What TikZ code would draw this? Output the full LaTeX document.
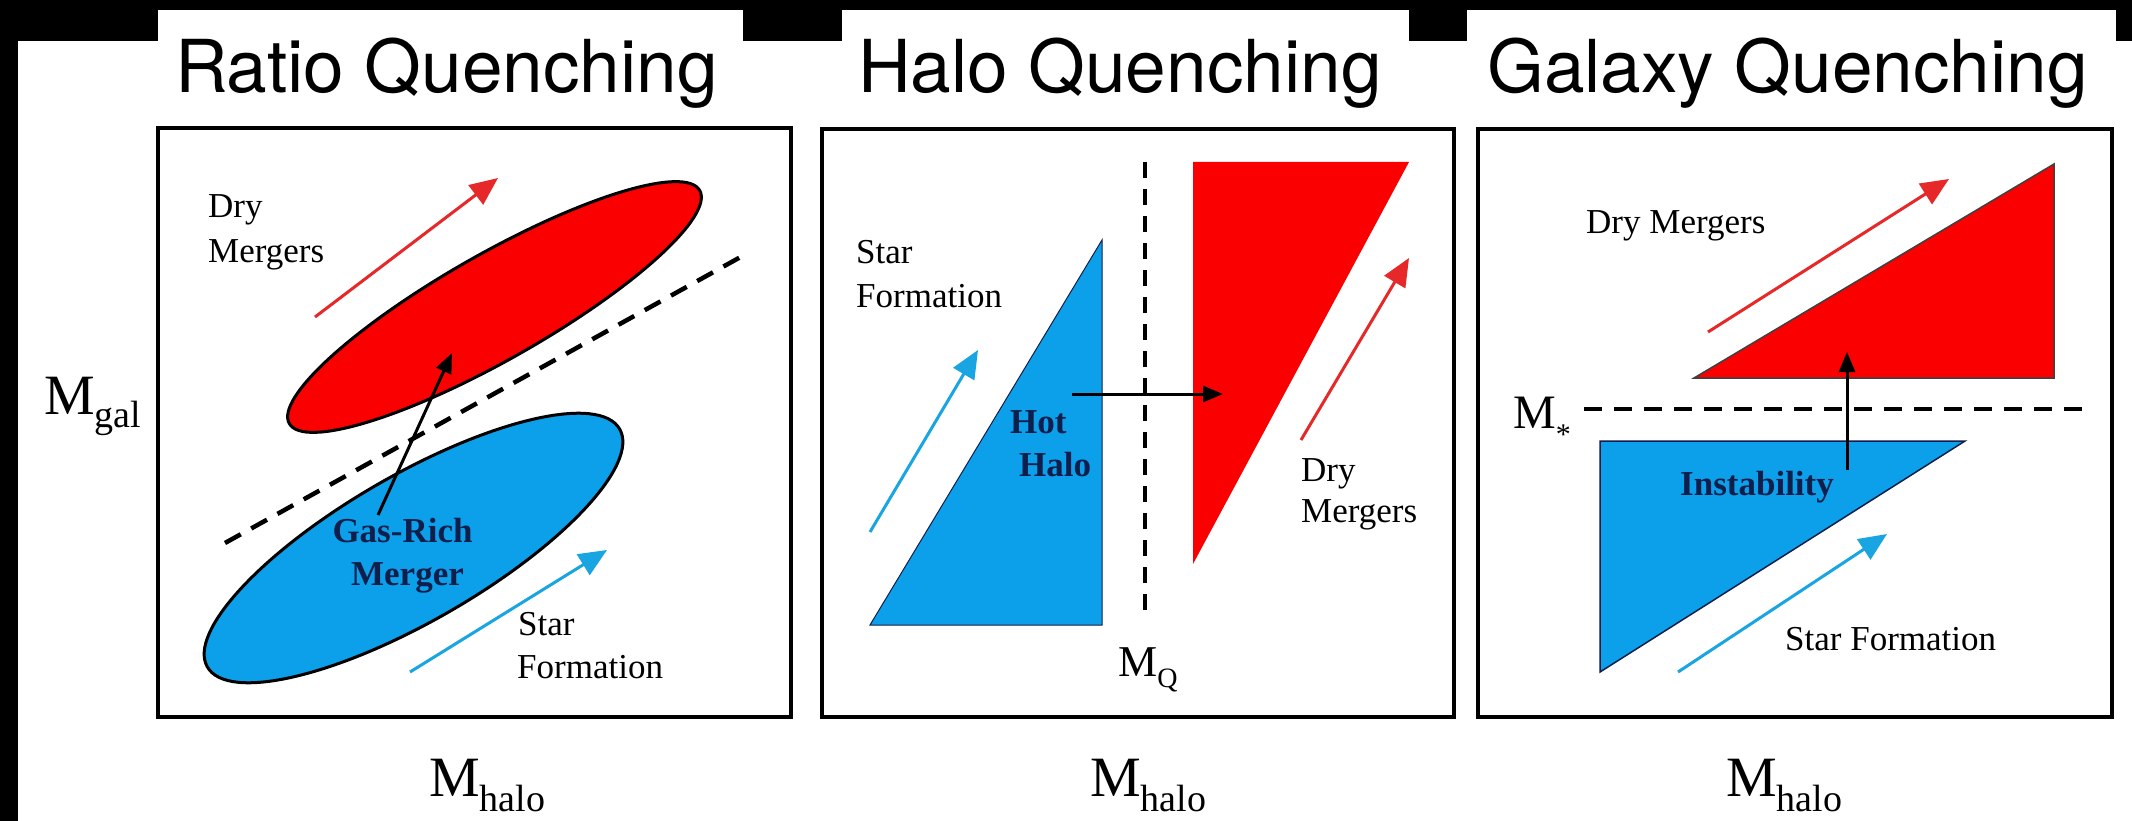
\documentclass[tikz,border=0pt]{standalone}
\usepackage{fontspec}
\setmainfont{Liberation Serif}
\newfontfamily\titlefont{TeX Gyre Heros}
\usetikzlibrary{arrows.meta,shapes.geometric}
\definecolor{fillred}{RGB}{250,0,0}
\definecolor{fillblue}{RGB}{12,160,234}
\definecolor{arrred}{RGB}{230,40,40}
\definecolor{arrblue}{RGB}{25,165,225}
\definecolor{navy}{RGB}{15,30,75}
\tikzset{
  panel/.style={draw=black, line width=4pt},
  title/.style={font=\titlefont\fontsize{73}{80}\selectfont, anchor=base west, inner sep=0pt},
  lbl/.style={font=\fontsize{35}{40}\selectfont, anchor=base west, inner sep=0pt},
  boldlbl/.style={font=\bfseries\fontsize{35}{40}\selectfont, text=navy, anchor=base west, inner sep=0pt},
  axislbl/.style={font=\fontsize{57}{60}\selectfont, anchor=base west, inner sep=0pt},
  sepline/.style={line width=4.5pt, dash pattern=on 18pt off 12pt},
  redarrow/.style={draw=arrred, line width=3pt, -{Triangle[length=28pt,width=24pt]}},
  bluearrow/.style={draw=arrblue, line width=3pt, -{Triangle[length=28pt,width=24pt]}},
  blackarrow/.style={draw=black, line width=3pt, -{Triangle[length=20pt,width=16pt]}},
  blob/.style={ellipse, draw=black, line width=3pt, inner sep=0pt},
}
\newcommand{\halosub}{\raisebox{-15pt}{\fontsize{38}{38}\selectfont halo}}
\begin{document}
\begin{tikzpicture}[x=1pt,y=-1pt]
\useasboundingbox (0,0) rectangle (2132,821);
% background
\fill[white] (0,0) rectangle (2132,821);
\fill[black] (0,0) rectangle (2132,10);
\fill[black] (0,0) rectangle (158,41);
\fill[black] (743,0) rectangle (842,41);
\fill[black] (1409,0) rectangle (1467,41);
\fill[black] (2116,0) rectangle (2132,41);
\fill[black] (0,0) rectangle (18,821);
% titles
\node[title] (t1) at (175,93) {Ratio Quenching};
\node[title] (t2) at (858,93) {Halo Quenching};
\node[title] (t3) at (1487,93) {Galaxy Quenching};
% panel frames
\draw[panel] (158,128) rectangle (791,717);
\draw[panel] (822,129) rectangle (1454,717);
\draw[panel] (1478,129) rectangle (2112,717);

% ---------- Panel 1: Ratio quenching ----------
\node[blob, fill=fillblue, minimum width=476pt, minimum height=146pt, rotate=30] (blueell) at (413.5,548) {};
\node[blob, fill=fillred, minimum width=472pt, minimum height=106pt, rotate=29.6] (redell) at (494.5,307) {};
\coordinate (d1a) at (225,543);
\coordinate (d1b) at (746,254);
\draw[sepline] (d1a) -- (d1b);
\coordinate (r1a) at (315,317);
\coordinate (r1b) at (498,178);
\draw[redarrow] (r1a) -- (r1b);
\coordinate (b1a) at (410,672);
\coordinate (b1b) at (607,550);
\draw[bluearrow] (b1a) -- (b1b);
\node[boldlbl, anchor=base] (gas) at (402.5,542) {Gas-Rich};
\node[boldlbl, anchor=base] (merger) at (407.5,585) {Merger};
\coordinate (k1a) at (378,515);
\coordinate (k1b) at (452,353);
\draw[blackarrow] (k1a) -- (k1b);
\node[lbl] (dry1) at (208,218) {Dry};
\node[lbl] (merg1) at (208,262) {Mergers};
\node[lbl] (star1) at (518,635) {Star};
\node[lbl] (form1) at (517,678) {Formation};
\node[axislbl] (mgal) at (44,414) {M\raisebox{-13pt}{\fontsize{38}{38}\selectfont gal}};
\node[axislbl] (mh1) at (429,796) {M\halosub};

% ---------- Panel 2: Halo quenching ----------
\fill[fillblue, draw=navy, line width=1pt] (870,625) -- (1102,625) -- (1102,240) -- cycle;
\fill[fillred] (1193,162) -- (1409,162) -- (1193,564) -- cycle;
\coordinate (d2a) at (1145,162);
\coordinate (d2b) at (1145,610);
\draw[sepline, dash pattern=on 16pt off 11pt] (d2a) -- (d2b);
\coordinate (k2a) at (1072,394);
\coordinate (k2b) at (1223,394);
\draw[blackarrow] (k2a) -- (k2b);
\coordinate (b2a) at (870,532);
\coordinate (b2b) at (978,350);
\draw[bluearrow] (b2a) -- (b2b);
\coordinate (r2a) at (1301,440);
\coordinate (r2b) at (1409,258);
\draw[redarrow] (r2a) -- (r2b);
\node[lbl] (star2) at (856,263) {Star};
\node[lbl] (form2) at (856,307) {Formation};
\node[boldlbl] (hot) at (1010,433) {Hot};
\node[boldlbl] (halo) at (1019,476) {Halo};
\node[lbl] (dry2) at (1301,481) {Dry};
\node[lbl] (merg2) at (1301,522) {Mergers};
\node[axislbl, font=\fontsize{44}{48}\selectfont] (mq) at (1118,676) {M\raisebox{-11pt}{\fontsize{28}{28}\selectfont Q}};
\node[axislbl] (mh2) at (1090,796) {M\halosub};

% ---------- Panel 3: Galaxy quenching ----------
\fill[fillred, draw=black!75, line width=1.5pt] (1694,378) -- (2054,378) -- (2054,164) -- cycle;
\fill[fillblue, draw=navy, line width=1.5pt] (1600,441) -- (1965,441) -- (1600,672) -- cycle;
\coordinate (d3a) at (1584,409);
\coordinate (d3b) at (2084,409);
\draw[sepline] (d3a) -- (d3b);
\coordinate (r3a) at (1708,332);
\coordinate (r3b) at (1949,179);
\draw[redarrow] (r3a) -- (r3b);
\coordinate (b3a) at (1678,672);
\coordinate (b3b) at (1887,534);
\draw[bluearrow] (b3a) -- (b3b);
\coordinate (k3a) at (1847,470);
\coordinate (k3b) at (1847,352);
\draw[blackarrow] (k3a) -- (k3b);
\node[lbl] (dry3) at (1586,233) {Dry Mergers};
\node[boldlbl] (inst) at (1680,495) {Instability};
\node[lbl] (star3) at (1785,650) {Star Formation};
\node[axislbl, font=\fontsize{48}{52}\selectfont] (mstar) at (1513,428) {M\raisebox{-16pt}{\fontsize{30}{30}\selectfont *}};
\node[axislbl] (mh3) at (1726,796) {M\halosub};
\end{tikzpicture}
\end{document}
